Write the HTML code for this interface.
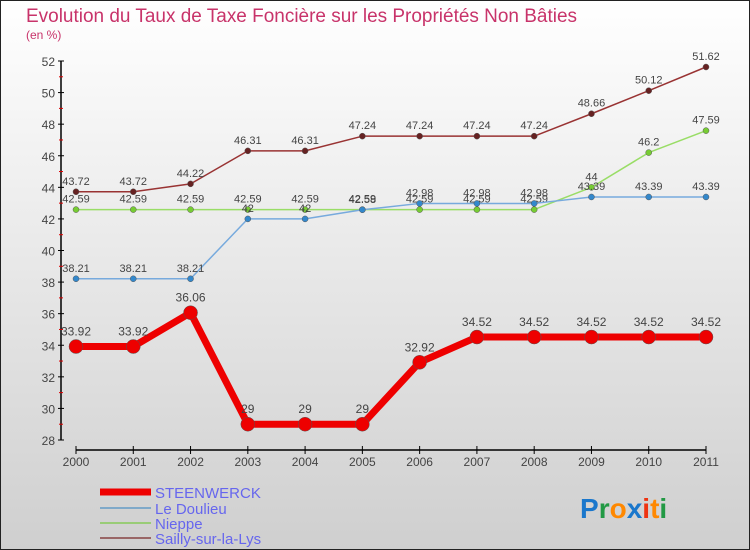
<!DOCTYPE html>
<html><head><meta charset="utf-8"><style>
body{margin:0}
svg{display:block;font-family:"Liberation Sans",sans-serif}
</style></head><body>
<svg id="c" width="750" height="550" viewBox="0 0 750 550">
<defs><linearGradient id="bg" x1="0" y1="0" x2="0" y2="1"><stop offset="0" stop-color="#ffffff"/><stop offset="1" stop-color="#cfcfcf"/></linearGradient></defs>
<rect x="0.5" y="0.5" width="749" height="549" fill="url(#bg)" stroke="#222"/>
<text x="26" y="22" font-size="19" textLength="551" lengthAdjust="spacingAndGlyphs" fill="#c8336a">Evolution du Taux de Taxe Foncière sur les Propriétés Non Bâties</text>
<text x="26" y="39" font-size="12" fill="#c8336a">(en %)</text>
<g id="axes"></g><g id="series"></g>
<g>
<line x1="100" y1="492" x2="151" y2="492" stroke="#ee0000" stroke-width="7"/>
<text x="155" y="498" font-size="15" fill="#6666ee">STEENWERCK</text>
<line x1="100" y1="508" x2="151" y2="508" stroke="#7fa9c9" stroke-width="2"/>
<text x="155" y="514" font-size="15" fill="#6666ee">Le Doulieu</text>
<line x1="100" y1="523" x2="151" y2="523" stroke="#99cc77" stroke-width="2"/>
<text x="155" y="529" font-size="15" fill="#6666ee">Nieppe</text>
<line x1="100" y1="538" x2="151" y2="538" stroke="#996666" stroke-width="2"/>
<text x="155" y="544" font-size="15" fill="#6666ee">Sailly-sur-la-Lys</text>
</g>
<g font-size="28" font-weight="bold">
<text x="580" y="518"><tspan fill="#1a77cc">P</tspan><tspan fill="#229944">r</tspan><tspan fill="#ff8800">o</tspan><tspan fill="#1a77cc">x</tspan><tspan fill="#ee3311">i</tspan><tspan fill="#ff8800">t</tspan><tspan fill="#229944">i</tspan></text>
</g>
</svg>
<script>
const years=[2000,2001,2002,2003,2004,2005,2006,2007,2008,2009,2010,2011];
const steenwerck=[33.92,33.92,36.06,29,29,29,32.92,34.52,34.52,34.52,34.52,34.52];
const leDoulieu=[38.21,38.21,38.21,42,42,42.58,42.98,42.98,42.98,43.39,43.39,43.39];
const nieppe=[42.59,42.59,42.59,42.59,42.59,42.59,42.59,42.59,42.59,44,46.2,47.59];
const sailly=[43.72,43.72,44.22,46.31,46.31,47.24,47.24,47.24,47.24,48.66,50.12,51.62];
const yTicks=[28,30,32,34,36,38,40,42,44,46,48,50,52];
const NS="http://www.w3.org/2000/svg";
const x=i=>76+i*(706-76)/(years.length-1);
const y=v=>440-(v-28)*(440-61)/24;
function mk(t,a,p){const e=document.createElementNS(NS,t);for(const k in a)e.setAttribute(k,a[k]);p.appendChild(e);return e;}
const ax=document.getElementById('axes');
const yl=mk('line',{x1:61,y1:y(52),x2:61,y2:y(28),stroke:'#000','stroke-width':1.5},ax);


const xl=mk('line',{x1:76,y1:450,x2:706,y2:450,stroke:'#000','stroke-width':1.5},ax);


yTicks.forEach(v=>{
 mk('line',{x1:58,y1:y(v),x2:64,y2:y(v),stroke:'#000'},ax);
 if(v<52)mk('line',{x1:59,y1:y(v+1),x2:63,y2:y(v+1),stroke:'#d00'},ax);
 const t=mk('text',{x:55,y:y(v)+5,'font-size':12,fill:'#444','text-anchor':'end'},ax);
 t.textContent=v;
 
 
});
years.forEach((yr,i)=>{
 mk('line',{x1:x(i),y1:446,x2:x(i),y2:454,stroke:'#000'},ax);
 const t=mk('text',{x:x(i),y:466,'font-size':12,fill:'#444','text-anchor':'middle'},ax);
 t.textContent=yr;
 
 
});
const sg=document.getElementById('series');
function series(vals,name,color,w,r,dot,fs){
 const g=mk('g',{},sg);
 
 
 const l=mk('polyline',{points:vals.map((v,i)=>x(i)+','+y(v)).join(' '),fill:'none',stroke:color,'stroke-width':w,'stroke-linejoin':'round'},g);
 
 
 vals.forEach((v,i)=>{
  const c=mk('circle',{cx:x(i),cy:y(v),r:r,fill:dot,stroke:'#555','stroke-width':0.5},g);
  
  
  const t=mk('text',{x:x(i),y:y(v)-(r+4),'font-size':fs,fill:'#444','text-anchor':'middle'},g);
  t.textContent=v;
  
  
 });
}
series(sailly,'sailly','#993333',1.5,3,'#662222',11);
series(nieppe,'nieppe','#99dd66',1.5,3,'#77cc33',11);
series(leDoulieu,'le-doulieu','#77aadd',1.5,3,'#3388cc',11);
series(steenwerck,'steenwerck','#ee0000',7,7,'#ee0000',12);
</script>
</body></html>
